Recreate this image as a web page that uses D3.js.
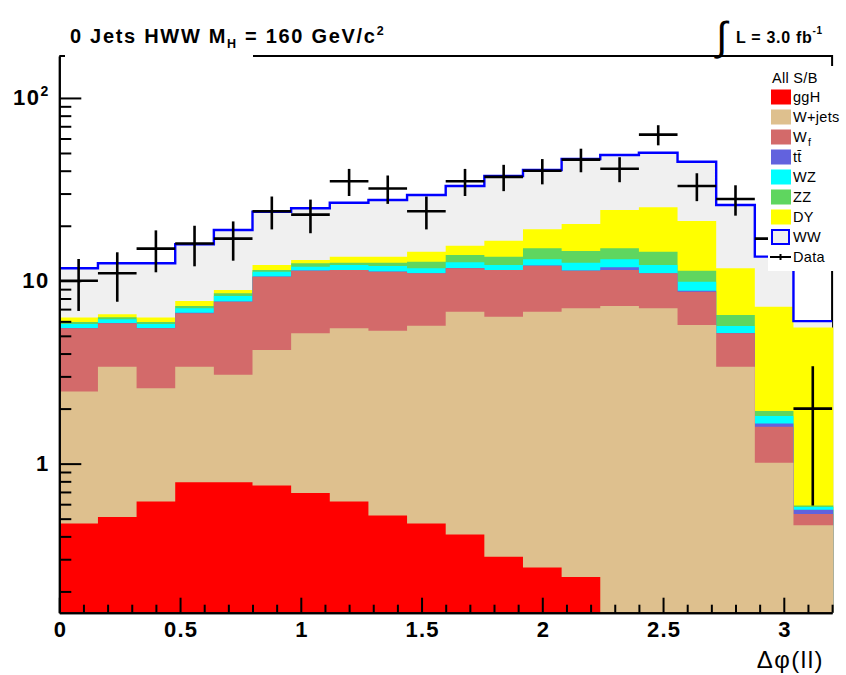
<!DOCTYPE html>
<html>
<head>
<meta charset="utf-8">
<script src="https://cdn.jsdelivr.net/npm/d3@7"></script>
<style>
  html, body { margin: 0; padding: 0; background: #fff; }
  svg { display: block; }
  text { font-family: "Liberation Sans", Arial, Helvetica, sans-serif; }
</style>
</head>
<body>
<script>
// Δφ(ll) histogram, 20 bins of width 0.16 from 0 to 3.2 (lower bin edges)
const binLow = [0.00, 0.16, 0.32, 0.48, 0.64, 0.80, 0.96, 1.12, 1.28, 1.44,
                1.60, 1.76, 1.92, 2.08, 2.24, 2.40, 2.56, 2.72, 2.88, 3.04];
const binWidth = 0.16;

// Expected events per bin for each process (stacked bottom to top)
const ggH   = [0.47, 0.51, 0.62, 0.79, 0.79, 0.76, 0.69, 0.62, 0.52, 0.47,
               0.41, 0.31, 0.27, 0.24, 0, 0, 0, 0, 0, 0];
const wjets = [2.01, 2.88, 1.96, 2.60, 2.27, 3.42, 4.48, 4.88, 4.81, 5.21,
               6.37, 6.05, 6.50, 6.83, 7.28, 7.07, 5.73, 3.39, 1.01, 0.46];
const wfake = [3.02, 2.47, 2.92, 3.25, 4.63, 6.35, 6.19, 5.95, 5.88, 5.31,
               4.93, 5.09, 5.32, 4.28, 4.17, 3.92, 2.98, 1.77, 0.58, 0.07];
const ttbar = [0.02, 0.02, 0.02, 0.05, 0.02, 0.02, 0.02, 0.02, 0.02, 0.02,
               0.02, 0.02, 0.02, 0.02, 0.40, 0.02, 0.10, 0.02, 0.07, 0.03];
const wz    = [0.29, 0.28, 0.29, 0.38, 0.55, 0.66, 0.57, 0.73, 0.81, 0.69,
               0.90, 0.73, 0.99, 1.19, 1.25, 1.19, 1.07, 0.48, 0.16, 0.02];
const zz    = [0.15, 0.16, 0.15, 0.21, 0.29, 0.24, 0.52, 0.36, 0.52, 1.02,
               1.22, 1.34, 1.95, 1.99, 1.95, 2.22, 1.47, 0.84, 0.12, 0.01];
const dy    = [0.33, 0.24, 0.33, 0.47, 0.36, 0.75, 0.53, 0.98, 0.98, 1.70,
               1.71, 3.02, 4.07, 5.89, 9.33, 10.81, 9.88, 5.20, 5.28, 4.97];
const ww    = [5.42, 5.90, 6.18, 8.08, 10.05, 11.66, 11.92, 13.19, 14.11, 15.03,
               17.43, 20.85, 21.23, 25.90, 24.35, 24.93, 23.57, 14.27, 6.33, 0.46];

// Observed events and their statistical errors
const dataCounts = [10, 11, 15, 16, 17, 24, 23, 35, 32, 24,
                    35, 37, 40, 46, 41, 63, 33, 28, 17, 2];
const dataErr    = [3.16, 3.32, 3.87, 4.00, 4.12, 4.90, 4.80, 5.92, 5.66, 4.90,
                    5.92, 6.08, 6.32, 6.78, 6.40, 7.94, 5.74, 5.29, 4.12, 1.41];

// Axis tick values
const xMajorTicks = [0, 0.5, 1, 1.5, 2, 2.5, 3];
const xMinorTicks = [0.1, 0.2, 0.3, 0.4, 0.6, 0.7, 0.8, 0.9, 1.1, 1.2, 1.3, 1.4,
                     1.6, 1.7, 1.8, 1.9, 2.1, 2.2, 2.3, 2.4, 2.6, 2.7, 2.8, 2.9,
                     3.1, 3.2];
const yMajorTicks = [1, 10, 100];
const yMinorTicks = [0.2, 0.3, 0.4, 0.5, 0.6, 0.7, 0.8, 0.9,
                     2, 3, 4, 5, 6, 7, 8, 9,
                     20, 30, 40, 50, 60, 70, 80, 90];

// Process definitions, bottom of the stack first
const processes = [
  { key: "ggH",   label: "ggH",    values: ggH,   color: "#ff0000" },
  { key: "wjets", label: "W+jets", values: wjets, color: "#dec08e" },
  { key: "wfake", label: "Wf",     values: wfake, color: "#d36a6a" },
  { key: "ttbar", label: "tt",     values: ttbar, color: "#6262de" },
  { key: "wz",    label: "WZ",     values: wz,    color: "#00ffff" },
  { key: "zz",    label: "ZZ",     values: zz,    color: "#5fd65f" },
  { key: "dy",    label: "DY",     values: dy,    color: "#ffff00" },
  { key: "ww",    label: "WW",     values: ww,    color: "#f0f0f0" }
];

const W = 846, H = 675;
const svg = d3.select("body").append("svg").attr("width", W).attr("height", H);

const x = d3.scaleLinear().domain([0, 3.2]).range([59.3, 832.1]);
const y = d3.scaleLog().domain([0.153, 169.6]).range([612.7, 56]).clamp(true);
const yMin = y.domain()[0];
const yv = v => y(Math.max(v, yMin));
const yBottom = y.range()[0];

// Frame (partly hidden by the filled histograms, legend and title box)
svg.append("path")
  .attr("d", `M${x(0)},${y.range()[1]}H${x(3.2)}V${yBottom}`)
  .attr("fill", "none").attr("stroke", "#000").attr("stroke-width", 2);

// Stacked histograms
const rows = binLow.map((b, i) => {
  const r = { lo: b };
  processes.forEach(p => { r[p.key] = p.values[i]; });
  return r;
});
const stacked = d3.stack().keys(processes.map(p => p.key))(rows);

function stepPath(tops, extendRight) {
  let d = `M${x(0)},${yBottom}`;
  tops.forEach((t, i) => {
    d += `L${x(binLow[i])},${yv(t)}L${x(binLow[i] + binWidth)},${yv(t)}`;
  });
  const xr = x(3.2) + extendRight;
  d += `L${xr},${yv(tops[tops.length - 1])}L${xr},${yBottom}Z`;
  return d;
}

// Draw the cumulative sums from the top of the stack down, like a THStack
stacked.slice().reverse().forEach((s, idx) => {
  const p = processes.find(q => q.key === s.key);
  const tops = s.map(d => d[1]);
  svg.append("path")
    .attr("d", stepPath(tops, idx === 0 ? 0 : 1.2))
    .attr("fill", p.color)
    .attr("stroke", "none");
});

// WW outline on top of the stack
const totalTops = stacked[stacked.length - 1].map(d => d[1]);
let outline = "";
totalTops.forEach((t, i) => {
  outline += (i === 0 ? "M" : "L") + `${x(binLow[i])},${yv(t)}L${x(binLow[i] + binWidth)},${yv(t)}`;
});
svg.append("path").attr("d", outline)
  .attr("fill", "none").attr("stroke", "#0000ff").attr("stroke-width", 2.4);

// Data points with error bars
const gData = svg.append("g").attr("stroke", "#000").attr("stroke-width", 2.6);
dataCounts.forEach((n, i) => {
  const xc = x(binLow[i] + binWidth / 2);
  gData.append("line")
    .attr("x1", x(binLow[i])).attr("x2", x(binLow[i] + binWidth))
    .attr("y1", yv(n)).attr("y2", yv(n));
  gData.append("line")
    .attr("x1", xc).attr("x2", xc)
    .attr("y1", yv(n + dataErr[i])).attr("y2", yv(n - dataErr[i]));
});

// Legend
const leg = svg.append("g");
leg.append("rect").attr("x", 768).attr("y", 66).attr("width", 70).attr("height", 205)
  .attr("fill", "#fff");
leg.append("text").attr("x", 772).attr("y", 83)
  .attr("font-size", 14.5).attr("letter-spacing", 0.3).attr("fill", "#000").text("All S/B");

const legendRows = processes.map(p => ({ label: p.label, color: p.color, key: p.key }))
  .concat([{ label: "Data", key: "data" }]);
legendRows.forEach((r, i) => {
  const cy = 97 + i * 20;
  const g = leg.append("g");
  if (r.key === "ww") {
    g.append("rect").attr("x", 772).attr("y", cy - 7).attr("width", 17).attr("height", 14)
      .attr("fill", "#f0f0f0").attr("stroke", "#0000ff").attr("stroke-width", 2);
  } else if (r.key === "data") {
    g.append("line").attr("x1", 770).attr("x2", 791).attr("y1", cy).attr("y2", cy)
      .attr("stroke", "#000").attr("stroke-width", 2);
    g.append("line").attr("x1", 780.5).attr("x2", 780.5).attr("y1", cy - 3).attr("y2", cy + 3)
      .attr("stroke", "#000").attr("stroke-width", 2);
  } else {
    g.append("rect").attr("x", 771).attr("y", cy - 7.5).attr("width", 20).attr("height", 15)
      .attr("fill", r.color);
  }
  const t = g.append("text").attr("x", 793).attr("y", cy + 5)
    .attr("font-size", 14.5).attr("letter-spacing", 0.3).attr("fill", "#000");
  if (r.key === "wfake") {
    t.text("W");
    t.append("tspan").attr("font-size", 10.5).attr("dx", 1).attr("dy", 4).text("f");
  } else if (r.key === "ttbar") {
    t.text("tt\u0304");
  } else {
    t.text(r.label);
  }
});

// Title box covering the top of the frame
svg.append("rect").attr("x", 65).attr("y", 0).attr("width", 188).attr("height", 63)
  .attr("fill", "#fff");
const title = svg.append("text").attr("x", 70).attr("y", 43)
  .attr("font-size", 20).attr("font-weight", "bold").attr("letter-spacing", 1.7)
  .attr("fill", "#000");
title.append("tspan").text("0 Jets HWW M");
title.append("tspan").attr("font-size", 12.5).attr("dy", 5).text("H");
title.append("tspan").attr("dy", -5).text(" = 160 GeV/c");
title.append("tspan").attr("font-size", 12.5).attr("dy", -8).text("2");

// Luminosity label
svg.append("text").attr("x", 716).attr("y", 50)
  .attr("font-size", 40).attr("fill", "#000").attr("font-family", "DejaVu Sans")
  .text("\u222B");
const lumi = svg.append("text").attr("x", 736).attr("y", 43)
  .attr("font-size", 16).attr("font-weight", "bold").attr("letter-spacing", 0.7)
  .attr("fill", "#000");
lumi.append("tspan").text("L = 3.0 fb");
lumi.append("tspan").attr("font-size", 10).attr("dy", -9).text("-1");

// Axes with ticks on the inside
const axisStyle = g => {
  g.select(".domain").attr("stroke", "#000").attr("stroke-width", 2);
  g.selectAll(".tick line").attr("stroke", "#000").attr("stroke-width", 2);
};

svg.append("g").attr("transform", `translate(0,${yBottom})`)
  .call(d3.axisBottom(x).tickValues(xMinorTicks).tickSizeInner(-8).tickSizeOuter(0).tickFormat(""))
  .call(axisStyle);
const xMajor = svg.append("g").attr("transform", `translate(0,${yBottom})`)
  .call(d3.axisBottom(x).tickValues(xMajorTicks).tickSizeInner(-15).tickSizeOuter(0)
    .tickPadding(9).tickFormat(d3.format("")))
  .call(axisStyle);
xMajor.selectAll(".tick text")
  .attr("font-size", 22).attr("font-weight", "bold").attr("fill", "#000")
  .attr("letter-spacing", 1.2).attr("dx", 0.6)
  .attr("font-family", "Liberation Sans, Arial, sans-serif");

svg.append("g").attr("transform", `translate(${x(0)},0)`)
  .call(d3.axisLeft(y).tickValues(yMinorTicks).tickSizeInner(-12).tickSizeOuter(0).tickFormat(""))
  .call(axisStyle);
const yMajor = svg.append("g").attr("transform", `translate(${x(0)},0)`)
  .call(d3.axisLeft(y).tickValues(yMajorTicks).tickSizeInner(-22).tickSizeOuter(0)
    .tickPadding(9.5).tickFormat(d3.format("")))
  .call(axisStyle);
yMajor.selectAll(".tick text")
  .attr("font-size", 22).attr("font-weight", "bold").attr("fill", "#000")
  .attr("letter-spacing", 1.5)
  .attr("font-family", "Liberation Sans, Arial, sans-serif")
  .each(function(d) {
    if (d === 100) {
      const t = d3.select(this).text("");
      t.append("tspan").text("10");
      t.append("tspan").attr("font-size", 14).attr("dy", -9).text("2");
    }
  });

// x axis title
svg.append("text").attr("x", 824).attr("y", 668).attr("text-anchor", "end")
  .attr("font-size", 24).attr("letter-spacing", 1.5)
  .attr("font-family", "Liberation Serif, Times New Roman, serif")
  .attr("fill", "#000").text("\u0394\u03C6(ll)");
</script>
</body>
</html>
